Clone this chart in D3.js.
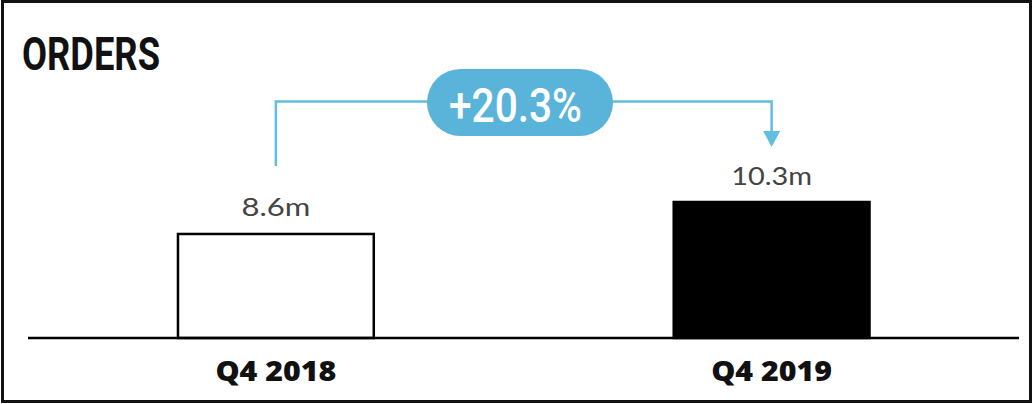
<!DOCTYPE html>
<html>
<head>
<meta charset="utf-8">
<script src="https://cdn.jsdelivr.net/npm/d3@7"></script>
<style>
  html, body { margin: 0; padding: 0; background: #fff; }
  svg { display: block; }
</style>
</head>
<body>
<svg id="chart" width="1033" height="404"></svg>
<script>
// Quarterly order volume (millions)
const title = "ORDERS";
const categories = ["Q4 2018", "Q4 2019"];
const values = [8.6, 10.3];
const valueLabels = ["8.6m", "10.3m"];
const changeLabel = "+20.3%";

const W = 1033, H = 404;
const svg = d3.select("#chart");
const blue = "#5ab4d9";
const lineBlue = "#62bde0";

// Frame
svg.append("rect")
  .attr("x", 2.5).attr("y", 1.5)
  .attr("width", W - 5).attr("height", H - 4)
  .attr("fill", "#fff").attr("stroke", "#111").attr("stroke-width", 3);

// Title
svg.append("text")
  .attr("x", 22).attr("y", 70)
  .attr("font-family", "Roboto, 'DejaVu Sans Condensed', sans-serif")
  .attr("font-weight", 700).attr("font-size", 47)
  .attr("textLength", 138).attr("lengthAdjust", "spacingAndGlyphs")
  .attr("fill", "#111")
  .text(title);

const baseY = 338;
const x = d3.scaleBand().domain(categories).range([28, 1019.5])
  .paddingInner(0.6).paddingOuter(0.3);
const y = d3.scaleLinear().domain([3.07, 10.3]).range([baseY, 202]);

const cx = c => x(c) + x.bandwidth() / 2;

// Bars
svg.selectAll("rect.bar").data(categories).join("rect")
  .attr("class", "bar")
  .attr("x", d => x(d) + 1.25)
  .attr("y", (d, i) => y(values[i]))
  .attr("width", x.bandwidth() - 2.5)
  .attr("height", (d, i) => baseY - y(values[i]))
  .attr("fill", (d, i) => i === 0 ? "#fff" : "#000")
  .attr("stroke", "#000").attr("stroke-width", 2.5);

// Baseline
svg.append("line")
  .attr("x1", 28).attr("x2", 1019)
  .attr("y1", baseY).attr("y2", baseY)
  .attr("stroke", "#000").attr("stroke-width", 2.5);

// Value labels
const valueWidths = [69, 81];
svg.selectAll("text.val").data(categories).join("text")
  .attr("class", "val")
  .attr("x", d => cx(d))
  .attr("y", (d, i) => y(values[i]) - 17.5)
  .attr("text-anchor", "middle")
  .attr("font-family", "Lato, 'Open Sans', sans-serif")
  .attr("font-size", 25)
  .attr("textLength", (d, i) => valueWidths[i]).attr("lengthAdjust", "spacingAndGlyphs")
  .attr("fill", "#444")
  .text((d, i) => valueLabels[i]);

// Category labels
svg.selectAll("text.cat").data(categories).join("text")
  .attr("class", "cat")
  .attr("x", d => cx(d))
  .attr("y", 381)
  .attr("text-anchor", "middle")
  .attr("font-family", "'Open Sans', Lato, sans-serif")
  .attr("font-weight", 800).attr("font-size", 28)
  .attr("textLength", 121).attr("lengthAdjust", "spacingAndGlyphs")
  .attr("fill", "#111")
  .text(d => d);

// Change connector with arrow
const x0 = cx(categories[0]), x1 = cx(categories[1]);
const lineY = 101.5;
const tipY = 147;
svg.append("path")
  .attr("d", `M${x0},166 L${x0},${lineY} L${x1},${lineY} L${x1},${tipY - 14}`)
  .attr("fill", "none").attr("stroke", lineBlue).attr("stroke-width", 2.5);
svg.append("path")
  .attr("d", `M${x1 - 8.5},${tipY - 16} L${x1 + 8.5},${tipY - 16} L${x1},${tipY} Z`)
  .attr("fill", lineBlue);

// Change badge
const pillW = 186, pillH = 67, pillCx = 520, pillCy = 102.5;
svg.append("rect")
  .attr("x", pillCx - pillW / 2).attr("y", pillCy - pillH / 2)
  .attr("width", pillW).attr("height", pillH)
  .attr("rx", pillH / 2).attr("ry", pillH / 2)
  .attr("fill", blue);
svg.append("text")
  .attr("x", 515.5).attr("y", 122)
  .attr("text-anchor", "middle")
  .attr("font-family", "Roboto, sans-serif")
  .attr("font-weight", 500).attr("font-size", 49)
  .attr("textLength", 133).attr("lengthAdjust", "spacingAndGlyphs")
  .attr("fill", "#fff")
  .text(changeLabel);
</script>
</body>
</html>
